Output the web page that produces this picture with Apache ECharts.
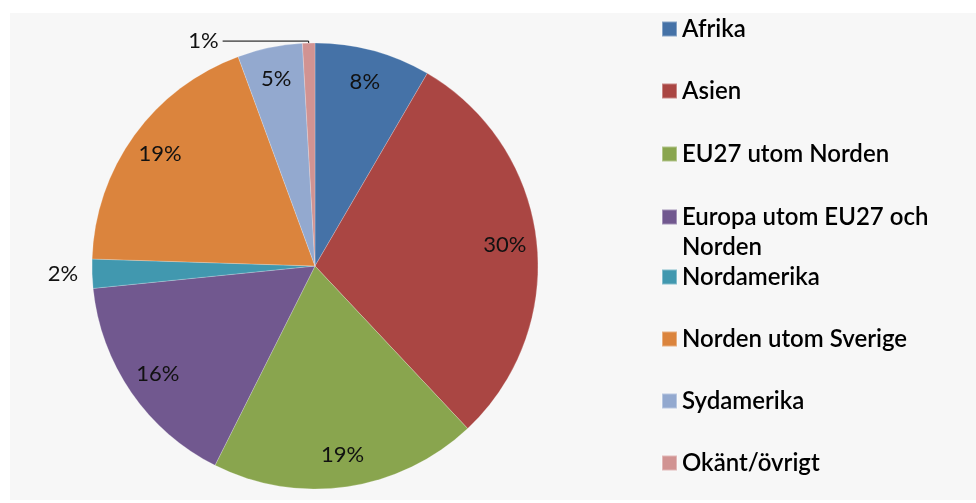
<!DOCTYPE html>
<html>
<head>
<meta charset="utf-8">
<script src="https://cdn.jsdelivr.net/npm/echarts@6/dist/echarts.min.js"></script>
<style>
  html, body { margin: 0; padding: 0; background: #fff; }
  #chart { width: 976px; height: 503px; }
</style>
</head>
<body>
<div id="chart"></div>
<script>
  const categories = ['Afrika', 'Asien', 'EU27 utom Norden', 'Europa utom EU27 och Norden',
    'Nordamerika', 'Norden utom Sverige', 'Sydamerika', 'Okänt/övrigt']
  const shares = [8.4, 29.6, 19.4, 16.0, 2.1, 18.9, 4.7, 0.9]
  const colors = ['#4572a7', '#aa4643', '#89a54e', '#71588f', '#4198af', '#db843d', '#93a9cf', '#d19392']

  // slices whose label sits outside the pie
  const outsideLabels = {
    'Nordamerika': { labelLine: { show: false, length: 6, length2: 4 } },
    'Okänt/övrigt': { labelLine: { show: true, length: 2, length2: 86 } },
  }

  const legendCenters = [29, 91, 154, 217, 277, 339, 401, 463]
  const lineH = 30
  const fontFamily = 'Lato, "Open Sans", sans-serif'

  const pctLabel = p => Math.round(p.percent) + '%'

  const legends = categories.map((name, i) => {
    const twoLine = name === 'Europa utom EU27 och Norden'
    return {
      data: [name],
      orient: 'vertical',
      left: 661,
      top: twoLine ? legendCenters[i] - lineH * 1.5 : legendCenters[i] - lineH / 2,
      padding: 0,
      icon: 'rect',
      itemWidth: 15,
      itemHeight: 15,
      selectedMode: false,
      formatter: n => twoLine ? '\nEuropa utom EU27 och\nNorden' : n,
      textStyle: { fontSize: 24, fontWeight: 600, lineHeight: lineH, color: '#000', fontFamily: fontFamily },
    }
  })

  const mainData = categories.map((name, i) => {
    const item = { name: name, value: shares[i], itemStyle: { color: colors[i] } }
    if (outsideLabels[name]) {
      item.label = { show: true, position: 'outside', distanceToLabelLine: 4 }
      item.labelLine = Object.assign({ lineStyle: { color: '#000', width: 1 } }, outsideLabels[name].labelLine)
    }
    return item
  })

  // invisible twin pie only to carry inside labels further out
  const labelData = categories.map((name, i) => ({
    name: name,
    value: shares[i],
    label: { show: !outsideLabels[name] },
  }))

  const options = {
    animation: false,
    graphic: [
      {
        type: 'rect',
        left: 10,
        top: 13,
        shape: { width: 966, height: 487 },
        style: { fill: '#f7f7f7' },
        z: -10,
        silent: true,
      },
    ],
    legend: legends,
    series: [
      {
        name: 'main',
        type: 'pie',
        center: [315, 266],
        radius: 223,
        startAngle: 90,
        clockwise: true,
        avoidLabelOverlap: false,
        silent: true,
        itemStyle: { borderColor: 'rgba(255,255,255,0.35)', borderWidth: 0.6 },
        label: {
          show: false,
          formatter: pctLabel,
          fontSize: 22,
          color: '#111',
          fontFamily: fontFamily,
        },
        data: mainData,
      },
      {
        name: 'labels',
        type: 'pie',
        center: [315, 266],
        radius: [0, 376],
        startAngle: 90,
        clockwise: true,
        silent: true,
        avoidLabelOverlap: false,
        itemStyle: { color: 'rgba(0,0,0,0)' },
        label: {
          position: 'inside',
          formatter: pctLabel,
          fontSize: 22,
          color: '#111',
          fontFamily: fontFamily,
        },
        labelLine: { show: false },
        data: labelData,
      },
    ],
  }

  const myChart = echarts.init(document.getElementById('chart'))
  myChart.setOption(options)
  window.addEventListener('resize', () => myChart.resize(), false)
</script>
</body>
</html>
